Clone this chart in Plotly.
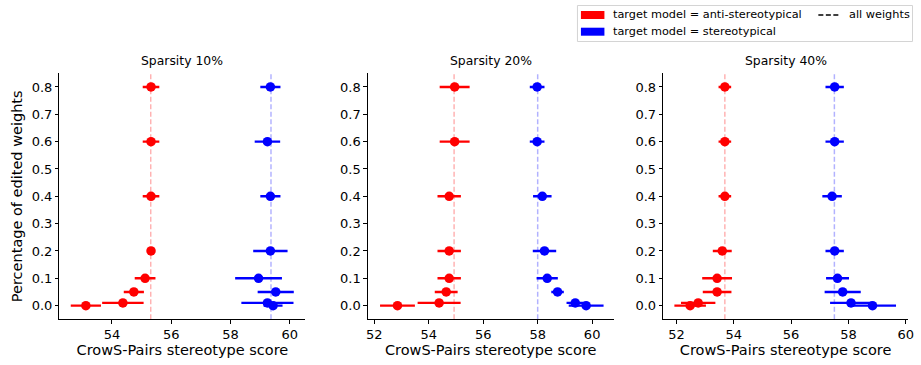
import plotly.graph_objects as go
from plotly.subplots import make_subplots

# Fraction of edited weights (shared y positions for every panel)
edited_frac = [0.8, 0.6, 0.4, 0.2, 0.1, 0.05, 0.01, 0.0]

panel_titles = ["Sparsity 10%", "Sparsity 20%", "Sparsity 40%"]

# Sparsity 10%
sp10_anti = [55.32, 55.32, 55.32, 55.32, 55.12, 54.74, 54.37, 53.12]
sp10_anti_err = [0.28, 0.28, 0.28, 0.10, 0.35, 0.34, 0.70, 0.51]
sp10_stereo = [59.35, 59.25, 59.35, 59.35, 58.95, 59.53, 59.25, 59.44]
sp10_stereo_err = [0.34, 0.43, 0.34, 0.58, 0.79, 0.61, 0.88, 0.32]

# Sparsity 20%
sp20_anti = [54.95, 54.95, 54.75, 54.75, 54.75, 54.64, 54.38, 52.85]
sp20_anti_err = [0.55, 0.55, 0.43, 0.43, 0.43, 0.42, 0.79, 0.64]
sp20_stereo = [57.98, 57.98, 58.17, 58.25, 58.35, 58.73, 59.38, 59.78]
sp20_stereo_err = [0.27, 0.27, 0.34, 0.43, 0.39, 0.23, 0.32, 0.64]

# Sparsity 40%
sp40_anti = [53.69, 53.69, 53.69, 53.60, 53.42, 53.42, 52.76, 52.48]
sp40_anti_err = [0.22, 0.22, 0.22, 0.33, 0.52, 0.50, 0.60, 0.55]
sp40_stereo = [57.52, 57.52, 57.43, 57.52, 57.62, 57.80, 58.09, 58.84]
sp40_stereo_err = [0.32, 0.32, 0.34, 0.32, 0.40, 0.63, 0.73, 0.82]

# Scores when all weights are edited (dashed reference lines)
all_weights_anti = [55.31, 54.93, 53.69]
all_weights_stereo = [59.37, 58.00, 57.51]

x_ranges = [[52.23, 60.53], [51.76, 60.79], [51.54, 60.08]]

anti_series = [(sp10_anti, sp10_anti_err), (sp20_anti, sp20_anti_err), (sp40_anti, sp40_anti_err)]
stereo_series = [(sp10_stereo, sp10_stereo_err), (sp20_stereo, sp20_stereo_err), (sp40_stereo, sp40_stereo_err)]

RED = "#ff0000"
BLUE = "#0000ff"
FONT = "DejaVu Sans"
W, H = 921, 365

fig = make_subplots(rows=1, cols=3)

x_domains = [[58 / W, 306 / W], [369 / W, 617 / W], [667 / W, 914 / W]]
y_domain = [1 - 319.3 / H, 1 - 73.3 / H]

for i in range(3):
    col = i + 1
    for (vals, errs), color in ((anti_series[i], RED), (stereo_series[i], BLUE)):
        fig.add_trace(
            go.Scatter(
                x=vals,
                y=edited_frac,
                mode="markers",
                marker=dict(color=color, size=9.5, line=dict(width=0)),
                error_x=dict(type="data", array=errs, visible=True,
                             thickness=2.4, width=0, color=color),
                showlegend=False,
                hoverinfo="skip",
            ),
            row=1, col=col,
        )
    xname = "x" if i == 0 else f"x{col}"
    for val, color in ((all_weights_anti[i], "rgba(255,0,0,0.3)"),
                       (all_weights_stereo[i], "rgba(0,0,255,0.3)")):
        fig.add_shape(type="line", xref=xname, yref=f"{'y' if i == 0 else 'y' + str(col)} domain",
                      x0=val, x1=val, y0=0, y1=1, layer="below",
                      line=dict(color=color, width=1.5, dash="5px,2.5px"))

    fig.update_xaxes(
        row=1, col=col, domain=x_domains[i], range=x_ranges[i],
        dtick=2, tick0=0, showgrid=False, zeroline=False,
        showline=True, linecolor="black", linewidth=1,
        ticks="outside", ticklen=3.5, tickwidth=1, tickcolor="black",
        tickfont=dict(family=FONT, size=13, color="black"),
        title=dict(text="CrowS-Pairs stereotype score",
                   font=dict(family=FONT, size=14.5, color="black"), standoff=3),
    )
    fig.update_yaxes(
        row=1, col=col, domain=y_domain, range=[-0.05, 0.85],
        dtick=0.1, tick0=0, tickformat=".1f", showgrid=False, zeroline=False,
        showline=True, linecolor="black", linewidth=1,
        ticks="outside", ticklen=3.5, tickwidth=1, tickcolor="black",
        tickfont=dict(family=FONT, size=13, color="black"),
    )
    cx = (x_domains[i][0] + x_domains[i][1]) / 2
    fig.add_annotation(text=panel_titles[i], xref="paper", yref="paper",
                       x=cx, y=1 - 61 / H, showarrow=False,
                       xanchor="center", yanchor="middle",
                       font=dict(family=FONT, size=12.4, color="black"))

fig.update_yaxes(row=1, col=1,
                 title=dict(text="Percentage of edited weights",
                            font=dict(family=FONT, size=14.5, color="black"), standoff=5))

# Legend box drawn in paper coordinates
def px(xp):
    return xp / W

def py(yp):
    return 1 - yp / H

fig.add_shape(type="rect", xref="paper", yref="paper",
              x0=px(580.5), x1=px(918.5), y0=py(41.5), y1=py(5.5),
              line=dict(color="#d4d4d4", width=1), fillcolor="white")
legend_rows = [("target model = anti-stereotypical", RED, 15.0),
               ("target model = stereotypical", BLUE, 31.7)]
for label, color, yc in legend_rows:
    fig.add_shape(type="rect", xref="paper", yref="paper",
                  x0=px(584), x1=px(607.7), y0=py(yc + 4), y1=py(yc - 4),
                  line=dict(width=0), fillcolor=color)
    fig.add_annotation(text=label, xref="paper", yref="paper",
                       x=px(614), y=py(yc), showarrow=False,
                       xanchor="left", yanchor="middle",
                       font=dict(family=FONT, size=11.3, color="black"))
fig.add_shape(type="line", xref="paper", yref="paper",
              x0=px(823.5), x1=px(845), y0=py(15), y1=py(15),
              line=dict(color="black", width=1.5, dash="5px,2.5px"))
fig.add_annotation(text="all weights", xref="paper", yref="paper",
                   x=px(852), y=py(15), showarrow=False,
                   xanchor="left", yanchor="middle",
                   font=dict(family=FONT, size=11.3, color="black"))

fig.update_layout(
    width=W, height=H,
    margin=dict(l=0, r=0, t=0, b=0),
    plot_bgcolor="white", paper_bgcolor="white",
    showlegend=False,
    font=dict(family=FONT, color="black"),
)

fig.write_html("out.html")
